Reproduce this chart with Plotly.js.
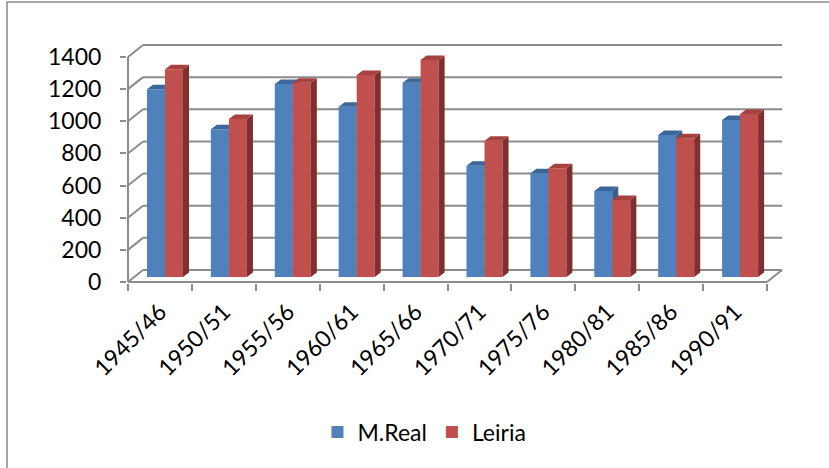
<!DOCTYPE html>
<html>
<head>
<meta charset="utf-8">
<script src="https://cdn.plot.ly/plotly-3.0.1.min.js"></script>
<style>html,body{margin:0;padding:0;background:#fff;}#chart{width:829px;height:468px;}</style>
</head>
<body>
<div id="chart"></div>
<script>
// ---- data ----
const categories = ['1945/46','1950/51','1955/56','1960/61','1965/66','1970/71','1975/76','1980/81','1985/86','1990/91'];
const mReal  = [1168, 919, 1201, 1060, 1209, 693, 645, 535, 884, 977];
const leiria = [1292, 983, 1209, 1257, 1350, 848, 676, 479, 863, 1014];
const yTicks = [0, 200, 400, 600, 800, 1000, 1200, 1400];
const seriesNames = ['M.Real', 'Leiria'];

// ---- pseudo-3D geometry (styling) ----
const BAR_W = 0.282;     // bar front width (category units)
const SIDE_DX = 0.094;   // bar depth, x
const SIDE_DY = 28;      // bar depth, y (value units)
const FRONT_X0 = -0.579; // front-left corner of the floor
const WALL_DX = 0.235;   // wall depth, x
const FRONT_DY = -31.1;  // front plane offset (value units)
const BACK_DY = 43.6;    // back plane offset
const N = categories.length;
const idx = categories.map((_, i) => i);

const GRID = '#8c8c8c';
const COLORS = {
  blue: {front: '#4F81BD', cap: '#3C679B', side: '#385D8A'},
  red:  {front: '#C0504D', cap: '#A5413E', side: '#7F2F2D'}
};

function sidePolys(vals, off) {
  const xs = [], ys = [];
  vals.forEach((v, i) => {
    const x1 = i + off + BAR_W;
    xs.push(x1, x1 + SIDE_DX, x1 + SIDE_DX, x1, x1, null);
    ys.push(0, SIDE_DY, v + SIDE_DY, v, 0, null);
  });
  return {x: xs, y: ys};
}
function capPolys(vals, off) {
  const xs = [], ys = [];
  vals.forEach((v, i) => {
    const x0 = i + off;
    xs.push(x0, x0 + BAR_W, x0 + BAR_W + SIDE_DX, x0 + SIDE_DX, x0, null);
    ys.push(v, v, v + SIDE_DY, v + SIDE_DY, v, null);
  });
  return {x: xs, y: ys};
}

function seriesTraces(vals, name, col, off, xa, ya, rank) {
  const s = sidePolys(vals, off), c = capPolys(vals, off);
  return [
    {type: 'scatter', x: s.x, y: s.y, mode: 'lines', fill: 'toself', fillcolor: col.side,
     line: {width: 0, color: col.side}, showlegend: false, hoverinfo: 'skip', xaxis: xa, yaxis: ya},
    {type: 'scatter', x: c.x, y: c.y, mode: 'lines', fill: 'toself', fillcolor: col.cap,
     line: {width: 0, color: col.cap}, showlegend: false, hoverinfo: 'skip', xaxis: xa, yaxis: ya},
    {type: 'bar', x: idx, y: vals, name: name, width: BAR_W, offset: off, legendrank: rank,
     marker: {color: col.front, line: {width: 0}}, xaxis: xa, yaxis: ya}
  ];
}

const data = [
  ...seriesTraces(mReal, seriesNames[0], COLORS.blue, -BAR_W, 'x', 'y', 1),
  ...seriesTraces(leiria, seriesNames[1], COLORS.red, 0, 'x2', 'y2', 2)
];

const shapes = [];
const line = (x0, y0, x1, y1, w) => ({type: 'line', xref: 'x', yref: 'y', x0, y0, x1, y1,
  line: {color: GRID, width: w || 2}, layer: 'below'});
yTicks.forEach(v => {
  shapes.push(line(FRONT_X0 + WALL_DX, v + BACK_DY, FRONT_X0 + N + WALL_DX, v + BACK_DY));
  shapes.push(line(FRONT_X0, v + FRONT_DY, FRONT_X0 + WALL_DX, v + BACK_DY));
});
shapes.push(line(FRONT_X0, yTicks[0] + FRONT_DY, FRONT_X0, yTicks[yTicks.length - 1] + FRONT_DY));
shapes.push(line(FRONT_X0, FRONT_DY, FRONT_X0 + N, FRONT_DY));
shapes.push(line(FRONT_X0 + N, FRONT_DY, FRONT_X0 + N + WALL_DX, BACK_DY));
// chart border
shapes.push({type: 'rect', xref: 'paper', yref: 'paper', x0: -0.181, x1: 1.2, y0: -0.8, y1: 1.133,
  line: {color: '#8a8a8a', width: 1.5}, fillcolor: 'rgba(0,0,0,0)', layer: 'below'});

const FONT = {family: 'Lato, "Open Sans", sans-serif', size: 23, color: '#000'};
const XR = [-0.5947, 9.781], YR = [-37.3, 1505.8];

const layout = {
  width: 829, height: 468,
  margin: {l: 127, r: 39, t: 35, b: 185, pad: 0},
  paper_bgcolor: '#fff', plot_bgcolor: 'rgba(0,0,0,0)',
  font: FONT,
  hovermode: false,
  showlegend: true,
  xaxis: {range: XR, tickvals: idx.map(i => i - 0.08), ticktext: categories, tickangle: -45,
          ticks: '', showgrid: false, zeroline: false, showline: false, fixedrange: true,
          tickfont: FONT, ticklabelstandoff: 10},
  xaxis2: {range: XR, overlaying: 'x', side: 'bottom', anchor: 'y2',
           tickvals: Array.from({length: N + 1}, (_, k) => FRONT_X0 + k),
           ticks: 'outside', ticklen: 7, tickwidth: 2, tickcolor: GRID, showticklabels: false,
           showgrid: false, zeroline: false, showline: false},
  yaxis: {range: YR, tickvals: yTicks.map(v => v + FRONT_DY), ticktext: yTicks.map(String),
          ticks: 'outside', ticklen: 6, tickwidth: 2, tickcolor: GRID, showgrid: false,
          zeroline: false, showline: false, tickfont: FONT, ticklabelstandoff: 14},
  yaxis2: {range: YR, overlaying: 'y', anchor: 'x2', showticklabels: false, ticks: '',
           showgrid: false, zeroline: false, showline: false},
  legend: {orientation: 'h', xref: 'container', yref: 'container', x: 0.512, y: 0.077,
           xanchor: 'center', yanchor: 'middle', font: FONT, itemwidth: 30, tracegroupgap: 0,
           bgcolor: 'rgba(0,0,0,0)'},
  shapes: shapes
};

Plotly.newPlot('chart', data, layout, {staticPlot: true, displayModeBar: false});
</script>
</body>
</html>
